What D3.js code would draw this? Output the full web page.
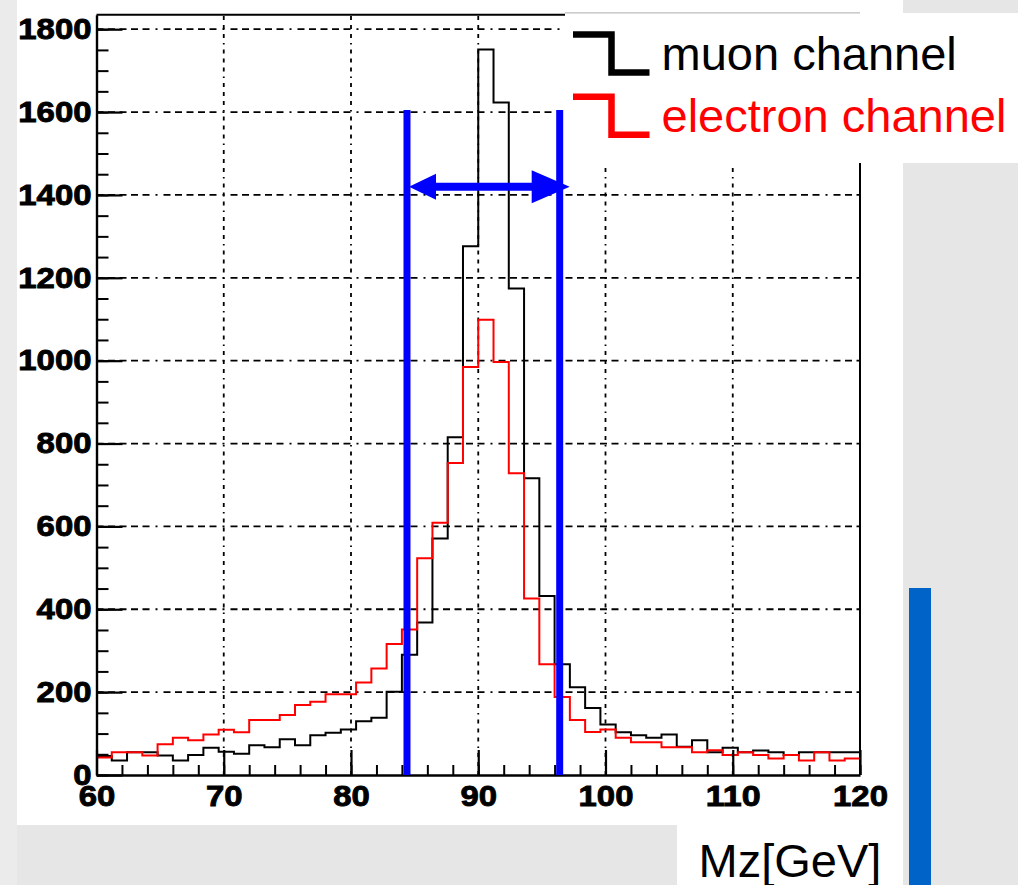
<!DOCTYPE html>
<html>
<head>
<meta charset="utf-8">
<script src="https://cdn.jsdelivr.net/npm/d3@7"></script>
<style>
body { margin: 0; background: #e6e6e6; }
svg { display: block; }
</style>
</head>
<body>
<script>
// 50 bins of 1.2 GeV from 60 to 120
var binLow = 60, binWidth = 1.2;
var muonCounts = [46, 35, 55, 55, 47, 35, 48, 66, 56, 51,
    72, 67, 86, 72, 96, 102, 110, 130, 138, 201,
    290, 368, 571, 815, 1276, 1751, 1623, 1174, 716, 432,
    267, 212, 162, 122, 103, 96, 90, 98, 68, 84,
    55, 66, 55, 59, 55, 48, 55, 55, 55, 55];
var electronCounts = [42, 55, 55, 47, 74, 90, 84, 98, 109, 103,
    133, 133, 145, 169, 177, 195, 195, 223, 257, 316,
    351, 523, 609, 753, 985, 1099, 997, 728, 426, 267,
    188, 133, 104, 110, 90, 79, 79, 67, 67, 55,
    60, 48, 55, 48, 40, 48, 35, 55, 35, 40];
var xMajorTicks = [60, 70, 80, 90, 100, 110, 120];
var xMinorTicks = d3.range(60, 121, 2);
var yMajorTicks = [0, 200, 400, 600, 800, 1000, 1200, 1400, 1600, 1800];
var yMinorTicks = d3.range(0, 1801, 50);
var massWindow = [84.4, 96.4];
var windowTop = 1605;
var arrowLevel = 1420;
var legendLabels = ["muon channel", "electron channel"];
var legendColors = ["#000000", "#ff0000"];
var xTitle = "Mz[GeV]";

var W = 1018, H = 885;
var svg = d3.select('body').append('svg').attr('width', W).attr('height', H);

// slide background pieces
svg.append('rect').attr('x', 0).attr('y', 0).attr('width', 17).attr('height', H).attr('fill', '#ebebeb');
svg.append('rect').attr('x', 17).attr('y', 0).attr('width', 886).attr('height', 825).attr('fill', '#ffffff');
svg.append('rect').attr('x', 677).attr('y', 825).attr('width', 226).attr('height', 60).attr('fill', '#ffffff');
svg.append('rect').attr('x', 909).attr('y', 588).attr('width', 22).attr('height', 297).attr('fill', '#0063c8');

var x = d3.scaleLinear().domain([60, 120]).range([96.5, 860]);
var y = d3.scaleLinear().domain([0, 1835]).range([775, 14.7]);

function dashed(sel) {
    sel.attr('stroke', '#000').attr('stroke-width', 1.8)
        .attr('stroke-dasharray', '7,4.5,7,4.5,7,4.5,7,4.5,7,6,2,6');
}

// grid
svg.append('g').selectAll('line').data(yMajorTicks.slice(1)).enter().append('line')
    .attr('x1', x(60)).attr('x2', x(120))
    .attr('y1', function (d) { return y(d); }).attr('y2', function (d) { return y(d); })
    .call(dashed);
svg.append('g').selectAll('line').data(xMajorTicks.slice(1, -1)).enter().append('line')
    .attr('y1', y(0)).attr('y2', y(1835))
    .attr('x1', function (d) { return x(d); }).attr('x2', function (d) { return x(d); })
    .call(dashed).attr('stroke-dasharray', '4,5,4,5,4,5,1.5,5');

// histograms
function histPoints(counts) {
    var pts = counts.map(function (v, i) { return {e: binLow + i * binWidth, v: v}; });
    pts.push({e: binLow + counts.length * binWidth, v: counts[counts.length - 1]});
    return pts;
}
var stepLine = d3.line()
    .x(function (d) { return x(d.e); })
    .y(function (d) { return y(d.v); })
    .curve(d3.curveStepAfter);
[muonCounts, electronCounts].forEach(function (counts, i) {
    svg.append('path').attr('d', stepLine(histPoints(counts)))
        .attr('fill', 'none').attr('stroke', legendColors[i]).attr('stroke-width', 2);
});

// frame
svg.append('path').attr('d', 'M' + x(60) + ',' + y(1835) + 'H' + x(120) + 'V' + y(0))
    .attr('fill', 'none').attr('stroke', '#000').attr('stroke-width', 2);

// axes
var fmt = d3.format('d');
function styleAxis(g, digitW) {
    g.attr('font-family', '"Liberation Sans", Arial, sans-serif').attr('font-weight', 'bold')
        .attr('color', '#000');
    g.select('.domain').attr('stroke-width', 2.4);
    g.selectAll('line').attr('stroke-width', 2.2);
    g.selectAll('text')
        .attr('stroke', '#000').attr('stroke-width', 0.9)
        .attr('textLength', function (d) { return fmt(d).length * digitW; })
        .attr('lengthAdjust', 'spacingAndGlyphs');
}
svg.append('g').attr('transform', 'translate(' + x(60) + ',0)')
    .call(d3.axisLeft(y).tickValues(yMinorTicks).tickSize(-12).tickSizeOuter(0).tickFormat(''))
    .call(function (g) { g.select('.domain').remove(); g.selectAll('line').attr('stroke-width', 2); });
svg.append('g').attr('transform', 'translate(' + x(60) + ',0)')
    .call(d3.axisLeft(y).tickValues(yMajorTicks).tickFormat(fmt).tickSize(-26).tickSizeOuter(0).tickPadding(5))
    .attr('font-size', 29)
    .call(styleAxis, 18.3);
svg.append('g').attr('transform', 'translate(0,' + y(0) + ')')
    .call(d3.axisBottom(x).tickValues(xMinorTicks).tickSize(-10).tickSizeOuter(0).tickFormat(''))
    .call(function (g) { g.select('.domain').remove(); g.selectAll('line').attr('stroke-width', 2); });
svg.append('g').attr('transform', 'translate(0,' + y(0) + ')')
    .call(d3.axisBottom(x).tickValues(xMajorTicks).tickFormat(fmt).tickSize(-25).tickSizeOuter(0).tickPadding(10))
    .attr('font-size', 30)
    .call(styleAxis, 18.3);

// mass window and arrow
var blue = '#0000ff';
svg.append('g').selectAll('line').data(massWindow).enter().append('line')
    .attr('x1', function (d) { return x(d); }).attr('x2', function (d) { return x(d); })
    .attr('y1', y(windowTop)).attr('y2', y(0))
    .attr('stroke', blue).attr('stroke-width', 7);
var ay = y(arrowLevel);
var ax1 = x(massWindow[0]) + 2, ax2 = x(massWindow[1]) + 10;
svg.append('line').attr('x1', ax1 + 20).attr('x2', ax2 - 30).attr('y1', ay).attr('y2', ay)
    .attr('stroke', blue).attr('stroke-width', 8);
svg.append('path').attr('d', 'M' + ax1 + ',' + ay + 'L' + (ax1 + 27) + ',' + (ay - 13) + 'L' + (ax1 + 27) + ',' + (ay + 13) + 'Z')
    .attr('fill', blue);
svg.append('path').attr('d', 'M' + ax2 + ',' + ay + 'L' + (ax2 - 38) + ',' + (ay - 16.5) + 'L' + (ax2 - 38) + ',' + (ay + 16.5) + 'Z')
    .attr('fill', blue);

// legend box
svg.append('rect').attr('x', 565).attr('y', 13).attr('width', W - 565).attr('height', 150).attr('fill', '#ffffff');
svg.append('line').attr('x1', 565).attr('x2', 860).attr('y1', 12.8).attr('y2', 12.8)
    .attr('stroke', '#bdbdbd').attr('stroke-width', 1.2);
var legend = svg.append('g').selectAll('g').data(legendLabels).enter().append('g')
    .attr('transform', function (d, i) { return 'translate(0,' + (i * 62.3) + ')'; });
legend.append('path').attr('d', 'M573,34.5H611.5V72.5H649.5')
    .attr('fill', 'none').attr('stroke-width', 6.5)
    .attr('stroke', function (d, i) { return legendColors[i]; });
legend.append('text').attr('x', 661.5).attr('y', 70)
    .attr('font-family', '"Liberation Sans", Arial, sans-serif').attr('font-size', 47)
    .attr('fill', function (d, i) { return legendColors[i]; })
    .text(function (d) { return d; });

// axis title
svg.append('text').attr('x', 698.5).attr('y', 876.5)
    .attr('font-family', '"Liberation Sans", Arial, sans-serif').attr('font-size', 47)
    .attr('fill', '#000').text(xTitle);
</script>
</body>
</html>
